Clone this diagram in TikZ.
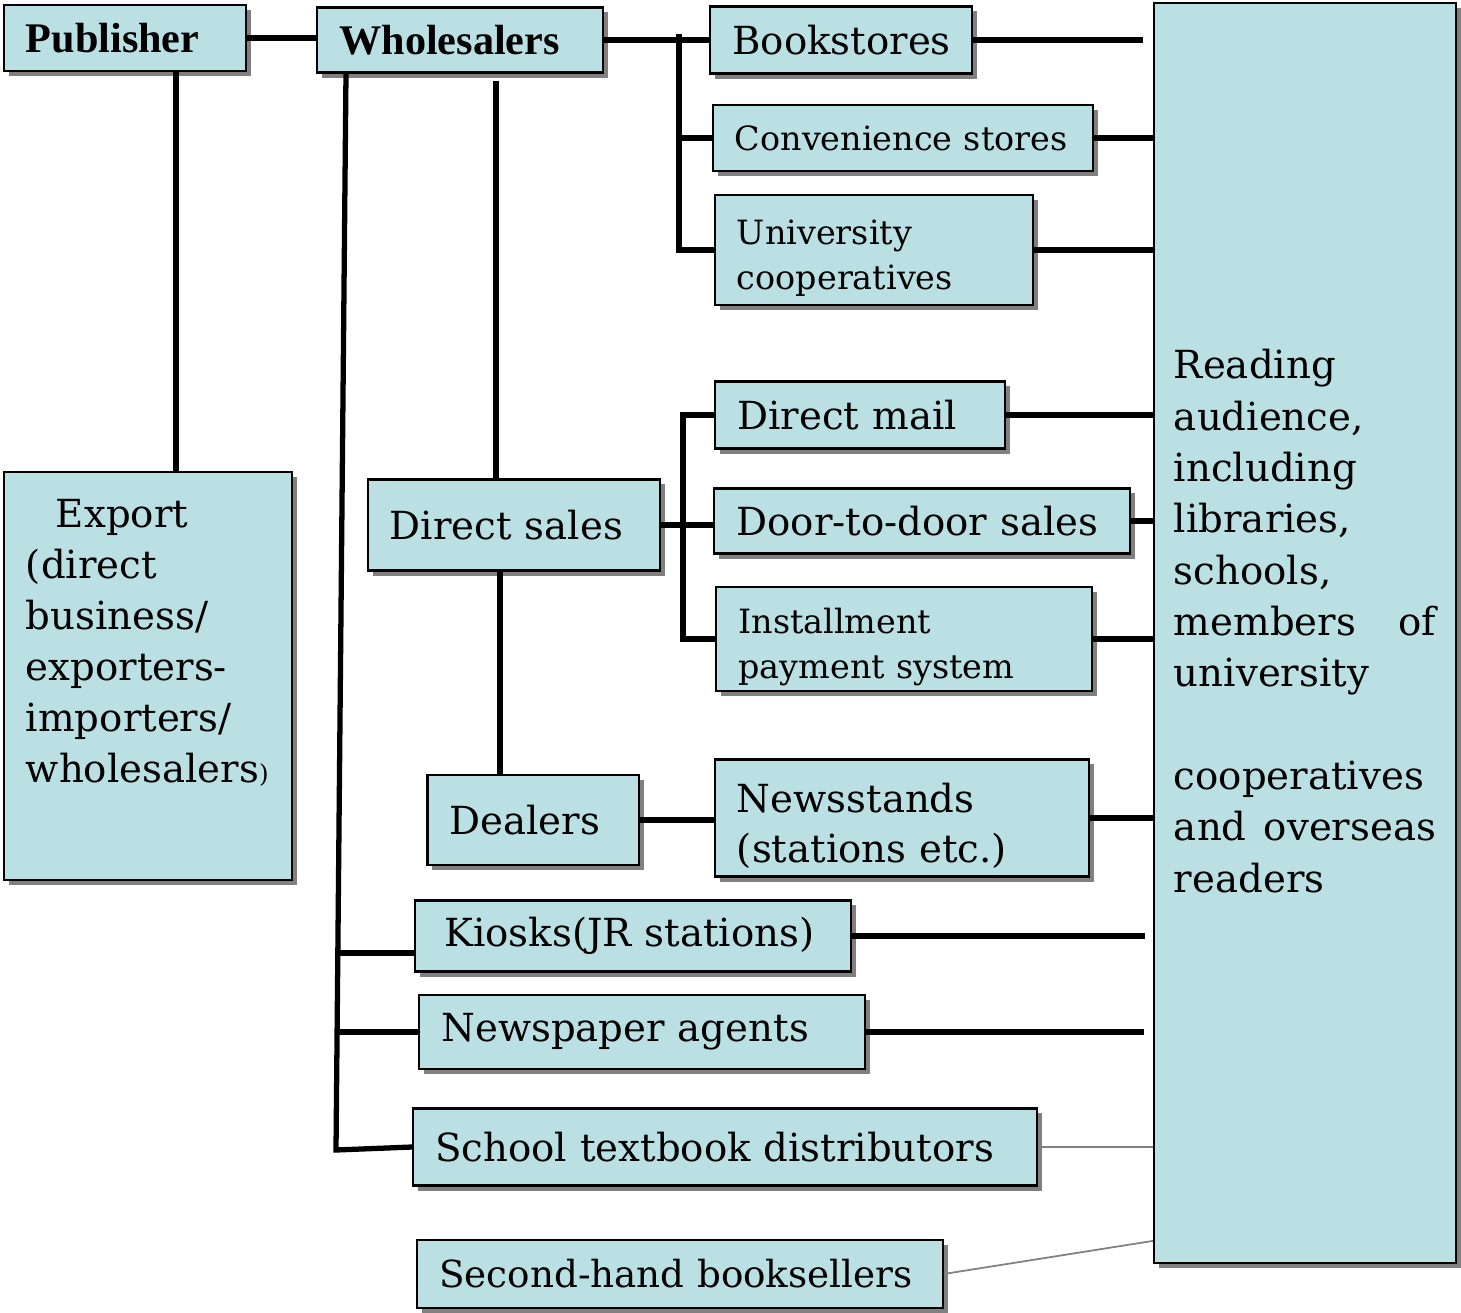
\documentclass[tikz,border=0pt]{standalone}
\usepackage{fontspec}
\setmainfont{DejaVu Serif}
\newfontfamily\headfont{Liberation Serif}
\usetikzlibrary{calc,shadows}
\definecolor{boxcyan}{RGB}{186,224,228}
\definecolor{shadowgray}{RGB}{128,128,128}
\tikzset{
  box/.style={draw=black, line width=0.6pt, fill=boxcyan,
    drop shadow={shadow xshift=0.05cm, shadow yshift=-0.05cm, fill=shadowgray, opacity=1},
    inner xsep=0.22cm, inner ysep=0pt, align=left,
    font=\fontsize{11}{14.5}\selectfont},
  smallbox/.style={box, font=\fontsize{9.5}{12.8}\selectfont},
  headbox/.style={box, font=\headfont\bfseries\fontsize{12}{14}\selectfont},
  link/.style={line width=1.5pt},
  thinlink/.style={line width=0.5pt, draw=gray}
}
\begin{document}
\begin{tikzpicture}[x=0.01cm, y=-0.01cm]
        \useasboundingbox (0,0) rectangle (1461,1313);
        % boxes
        \node[headbox, minimum width=2.42cm, minimum height=0.66cm, text width=1.98cm] (pub) at (125,38) {Publisher};
        \node[headbox, minimum width=2.85cm, minimum height=0.65cm, text width=2.41cm] (whole) at (460,40) {Wholesalers};
        \node[box, minimum width=2.61cm, minimum height=0.67cm, text width=2.17cm] (book) at (841,40) {Bookstores};
        \node[smallbox, minimum width=3.80cm, minimum height=0.66cm, text width=3.36cm] (conv) at (903,138) {Convenience stores};
        \node[smallbox, minimum width=3.18cm, minimum height=1.10cm, text width=2.74cm] (univ) at (874,250) {\rule{0pt}{0.41cm}University\\cooperatives};
        \node[box, minimum width=3.02cm, minimum height=12.59cm, text width=2.62cm, inner xsep=0.2cm, font=\fontsize{11}{14.6}\selectfont] (reader) at (1305,633)
          {Reading\\audience,\\including\\libraries,\\schools,\\members\hfill of\\university\\\mbox{}\\cooperatives\\and\hfill overseas\\readers\\[-0.27cm]\mbox{}};
        \node[box, minimum width=2.88cm, minimum height=4.07cm, text width=2.44cm] (export) at (148,676)
          {\hspace*{0.3cm}Export\\(direct\\business/\\exporters-\\importers/\\wholesalers{\fontsize{7}{7}\selectfont)}\\[0.2cm]\mbox{}};
        \node[box, minimum width=2.92cm, minimum height=0.91cm, text width=2.48cm] (direct) at (514,525) {Direct sales};
        \node[box, minimum width=2.89cm, minimum height=0.67cm, text width=2.45cm] (mail) at (860,415) {Direct mail};
        \node[box, minimum width=4.15cm, minimum height=0.65cm, text width=3.71cm] (door) at (922,521) {Door-to-door sales};
        \node[smallbox, minimum width=3.75cm, minimum height=1.04cm, text width=3.31cm] (inst) at (904,639) {\rule{0pt}{0.42cm}Installment\\payment system};
        \node[box, minimum width=2.11cm, minimum height=0.90cm, text width=1.67cm] (dealer) at (533,820) {Dealers};
        \node[box, minimum width=3.74cm, minimum height=1.17cm, text width=3.30cm] (news) at (902,818) {\rule{0pt}{0.45cm}Newsstands\\(stations etc.)};
        \node[box, minimum width=4.35cm, minimum height=0.71cm, text width=3.91cm] (kiosk) at (633,936) {\hspace*{0.07cm}Kiosks(JR stations)};
        \node[box, minimum width=4.45cm, minimum height=0.74cm, text width=4.01cm] (agent) at (642,1032) {Newspaper agents};
        \node[box, minimum width=6.23cm, minimum height=0.77cm, text width=5.79cm] (school) at (725,1147) {School textbook distributors};
        \node[box, minimum width=5.25cm, minimum height=0.68cm, text width=4.81cm, font=\fontsize{10.6}{14}\selectfont] (second) at (680,1274) {\mbox{Second-hand booksellers}};
        % publisher and wholesalers
        \draw[link] (pub.east) -- (pub.east -| whole.west);
        \draw[link] ([xshift=0.51cm]pub.south) -- ([xshift=0.51cm]pub.south |- export.north);
        \coordinate (wtop) at (346,73);
        \coordinate (wbot) at (336,1150);
        \draw[link] (wtop) -- (wbot) -- (school.west);
        \draw[link] ([yshift=-0.17cm]wbot |- kiosk.west) -- ([yshift=-0.17cm]kiosk.west);
        \draw[link] (wbot |- agent.west) -- (agent.west);
        \draw[link] ([xshift=0.36cm,yshift=-0.07cm]whole.south) -- ([xshift=0.36cm]whole.south |- direct.north);
        % stores
        \coordinate (bar1) at (679,34);
        \draw[link] (whole.east) -- (book.west);
        \draw[link] (bar1) -- (bar1 |- univ.west) -- (univ.west);
        \draw[link] (bar1 |- conv.west) -- (conv.west);
        % direct sales
        \coordinate (bar2) at (683,415);
        \draw[link] (direct.east) -- (direct.east -| door.west);
        \draw[link] (mail.west) -- (bar2) -- (bar2 |- inst.west) -- (inst.west);
        \draw[link] ([xshift=-0.14cm]direct.south) -- ([xshift=-0.14cm]direct.south |- dealer.north);
        \draw[link] (dealer.east) -- (dealer.east -| news.west);
        % to the reading audience
        \draw[link] (book.east) -- ([xshift=-0.1cm]book.east -| reader.west);
        \draw[link] (conv.east) -- (conv.east -| reader.west);
        \draw[link] (univ.east) -- (univ.east -| reader.west);
        \draw[link] (mail.east) -- (mail.east -| reader.west);
        \draw[link] (door.east) -- (door.east -| reader.west);
        \draw[link] (inst.east) -- (inst.east -| reader.west);
        \draw[link] (news.east) -- (news.east -| reader.west);
        \draw[link] (kiosk.east) -- ([xshift=-0.08cm]kiosk.east -| reader.west);
        \draw[link] (agent.east) -- ([xshift=-0.09cm]agent.east -| reader.west);
        \draw[thinlink] (school.east) -- (school.east -| reader.west);
        \draw[thinlink] (second.east) -- ([yshift=0.23cm]reader.south west);
        \end{tikzpicture}
\end{document}
